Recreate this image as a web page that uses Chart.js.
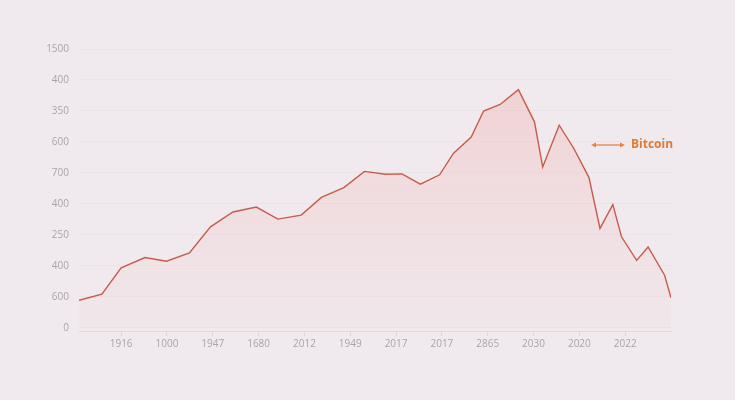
<!DOCTYPE html>
<html>
<head>
<meta charset="utf-8">
<script src="https://cdn.jsdelivr.net/npm/chart.js@4/dist/chart.umd.min.js"></script>
<style>
  html, body { margin: 0; padding: 0; background: #f0eaee; }
  #wrap { width: 735px; height: 400px; position: relative; }
</style>
</head>
<body>
<div id="wrap"><canvas id="btcChart"></canvas></div>
<script>
// tick labels as printed on the picture
const yTickLabels = ["0", "600", "400", "250", "400", "700", "600", "350", "400", "1500"];
const xTickLabels = ["1916", "1000", "1947", "1680", "2012", "1949", "2017", "2017", "2865", "2030", "2020", "2022"];

// series (x in tick-slot units, y in grid steps)
const seriesX = [0.08, 0.58, 1.0, 1.52, 1.99, 2.49, 2.95, 3.44, 3.95, 4.42, 4.93, 5.37, 5.86,
  6.31, 6.77, 7.13, 7.53, 7.95, 8.25, 8.64, 8.91, 9.27, 9.67, 10.02, 10.2, 10.56, 10.88,
  11.21, 11.45, 11.73, 11.92, 12.25, 12.5, 12.86, 13.0];
const seriesY = [0.89, 1.09, 1.94, 2.27, 2.15, 2.42, 3.26, 3.74, 3.90, 3.51, 3.64, 4.21, 4.53,
  5.05, 4.96, 4.97, 4.64, 4.94, 5.63, 6.16, 7.0, 7.21, 7.69, 6.65, 5.19, 6.54, 5.79,
  4.85, 3.21, 3.98, 2.94, 2.18, 2.61, 1.70, 0.97];

const points = seriesX.map((x, i) => ({ x: x, y: seriesY[i] }));

const legendPlugin = {
    id: "sideLegend",
    afterDraw(chart) {
        const ctx = chart.ctx;
        const y = 145;
        ctx.save();
        ctx.strokeStyle = "#e2834a";
        ctx.fillStyle = "#e2834a";
        ctx.lineWidth = 1.3;
        ctx.beginPath();
        ctx.moveTo(593, y);
        ctx.lineTo(623, y);
        ctx.stroke();
        // arrow heads
        ctx.beginPath();
        ctx.moveTo(591, y); ctx.lineTo(596, y - 2.5); ctx.lineTo(596, y + 2.5); ctx.closePath();
        ctx.fill();
        ctx.beginPath();
        ctx.moveTo(625, y); ctx.lineTo(620, y - 2.5); ctx.lineTo(620, y + 2.5); ctx.closePath();
        ctx.fill();
        ctx.font = "bold 12px 'Open Sans', sans-serif";
        ctx.fillStyle = "#e07a34";
        ctx.textBaseline = "middle";
        ctx.fillText("Bitcoin", 631, y);
        ctx.restore();
    }
};

const ctx = document.getElementById("btcChart").getContext("2d");
new Chart(ctx, {
    type: "line",
    data: {
        datasets: [{
            label: "Bitcoin",
            data: points,
            borderColor: "#c65c4a",
            borderWidth: 1.4,
            pointRadius: 0,
            tension: 0,
            fill: "origin",
            backgroundColor: (c) => {
                const area = c.chart.chartArea;
                if (!area) return "rgba(240,190,190,0.3)";
                const g = c.chart.ctx.createLinearGradient(0, area.top + 40, 0, area.bottom);
                g.addColorStop(0, "rgba(242,180,180,0.45)");
                g.addColorStop(0.6, "rgba(242,195,195,0.25)");
                g.addColorStop(1, "rgba(242,205,205,0.10)");
                return g;
            }
        }]
    },
    options: {
        responsive: true,
        maintainAspectRatio: false,
        animation: false,
        layout: { padding: { top: 49, right: 64, bottom: 0, left: 0 } },
        plugins: {
            legend: { display: false },
            tooltip: { enabled: false }
        },
        scales: {
            x: {
                type: "linear",
                min: 0.08,
                max: 13.0,
                afterFit: (s) => { s.height = 69; },
                afterBuildTicks: (s) => {
                    s.ticks = xTickLabels.map((_, i) => ({ value: i + 1 }));
                },
                ticks: {
                    callback: (v) => xTickLabels[Math.round(v) - 1] || "",
                    color: "#aaa4aa",
                    font: { family: "'Open Sans', sans-serif", size: 10 },
                    padding: 2,
                    maxRotation: 0,
                    autoSkip: false
                },
                grid: {
                    drawOnChartArea: false,
                    drawTicks: true,
                    tickLength: 5,
                    color: "rgba(200,190,200,0.45)"
                },
                border: { display: true, color: "rgba(205,195,205,0.5)" }
            },
            y: {
                type: "linear",
                min: -0.1,
                max: 9,
                afterFit: (s) => { s.width = 79; },
                afterBuildTicks: (s) => {
                    s.ticks = yTickLabels.map((_, i) => ({ value: i }));
                },
                ticks: {
                    callback: (v) => yTickLabels[Math.round(v)] || "",
                    color: "#aaa4aa",
                    font: { family: "'Open Sans', sans-serif", size: 10 },
                    padding: 10
                },
                grid: {
                    drawTicks: false,
                    color: "rgba(215,205,215,0.22)"
                },
                border: { display: false }
            }
        }
    },
    plugins: [legendPlugin]
});
</script>
</body>
</html>
